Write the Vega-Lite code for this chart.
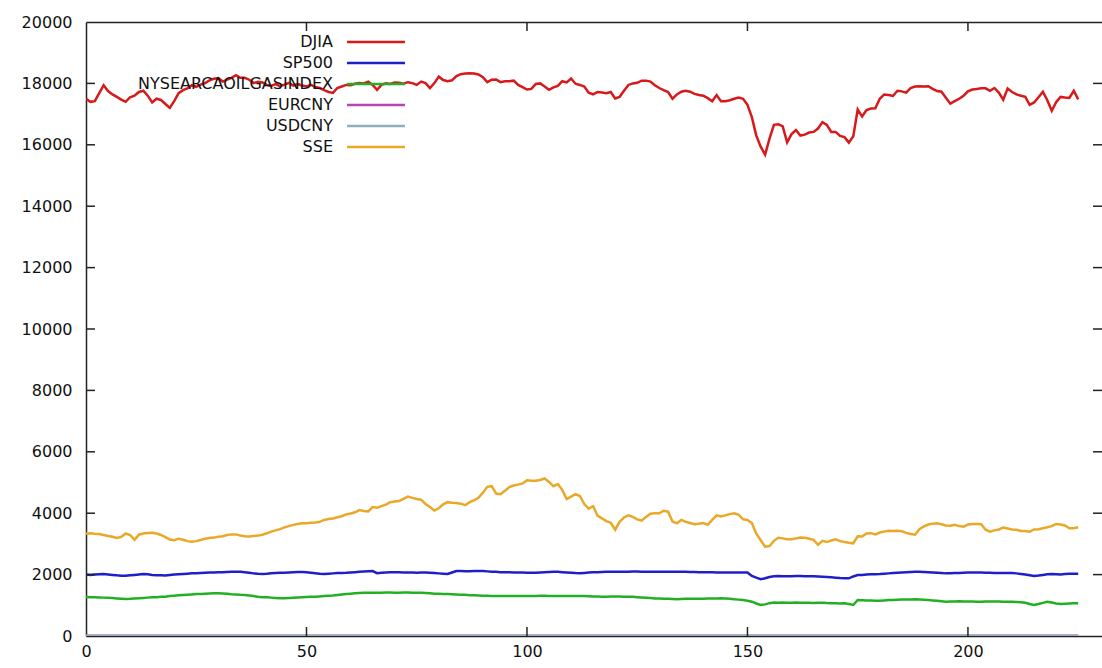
{
  "$schema": "https://vega.github.io/schema/vega-lite/v6.json",
  "width": 1016,
  "height": 614,
  "autosize": {"type": "none"},
  "padding": {"left": 86, "top": 22, "right": 0, "bottom": 32},
  "background": "white",
  "data": {"values": [
{"i":0,"DJIA":17500,"SP500":2000,"NYSEARCAOILGASINDEX":1270,"EURCNY":7.50,"USDCNY":6.21,"SSE":3340},
{"i":1,"DJIA":17400,"SP500":1990,"NYSEARCAOILGASINDEX":1265,"EURCNY":7.48,"USDCNY":6.21,"SSE":3345},
{"i":2,"DJIA":17420,"SP500":2000,"NYSEARCAOILGASINDEX":1260,"EURCNY":7.45,"USDCNY":6.22,"SSE":3330},
{"i":3,"DJIA":17680,"SP500":2010,"NYSEARCAOILGASINDEX":1255,"EURCNY":7.43,"USDCNY":6.22,"SSE":3320},
{"i":4,"DJIA":17940,"SP500":2020,"NYSEARCAOILGASINDEX":1250,"EURCNY":7.40,"USDCNY":6.22,"SSE":3290},
{"i":5,"DJIA":17750,"SP500":2005,"NYSEARCAOILGASINDEX":1245,"EURCNY":7.38,"USDCNY":6.21,"SSE":3260},
{"i":6,"DJIA":17640,"SP500":1990,"NYSEARCAOILGASINDEX":1235,"EURCNY":7.33,"USDCNY":6.21,"SSE":3230},
{"i":7,"DJIA":17560,"SP500":1975,"NYSEARCAOILGASINDEX":1225,"EURCNY":7.30,"USDCNY":6.21,"SSE":3190},
{"i":8,"DJIA":17470,"SP500":1965,"NYSEARCAOILGASINDEX":1215,"EURCNY":7.25,"USDCNY":6.20,"SSE":3230},
{"i":9,"DJIA":17400,"SP500":1960,"NYSEARCAOILGASINDEX":1205,"EURCNY":7.20,"USDCNY":6.20,"SSE":3340},
{"i":10,"DJIA":17550,"SP500":1975,"NYSEARCAOILGASINDEX":1210,"EURCNY":7.18,"USDCNY":6.20,"SSE":3290},
{"i":11,"DJIA":17600,"SP500":1990,"NYSEARCAOILGASINDEX":1220,"EURCNY":7.10,"USDCNY":6.21,"SSE":3130},
{"i":12,"DJIA":17720,"SP500":2005,"NYSEARCAOILGASINDEX":1230,"EURCNY":7.05,"USDCNY":6.22,"SSE":3300},
{"i":13,"DJIA":17760,"SP500":2020,"NYSEARCAOILGASINDEX":1240,"EURCNY":7.02,"USDCNY":6.23,"SSE":3340},
{"i":14,"DJIA":17600,"SP500":2010,"NYSEARCAOILGASINDEX":1250,"EURCNY":7.00,"USDCNY":6.24,"SSE":3355},
{"i":15,"DJIA":17380,"SP500":1990,"NYSEARCAOILGASINDEX":1260,"EURCNY":7.05,"USDCNY":6.24,"SSE":3365},
{"i":16,"DJIA":17500,"SP500":1980,"NYSEARCAOILGASINDEX":1265,"EURCNY":7.08,"USDCNY":6.25,"SSE":3340},
{"i":17,"DJIA":17460,"SP500":1975,"NYSEARCAOILGASINDEX":1275,"EURCNY":7.10,"USDCNY":6.25,"SSE":3290},
{"i":18,"DJIA":17330,"SP500":1970,"NYSEARCAOILGASINDEX":1280,"EURCNY":7.12,"USDCNY":6.25,"SSE":3220},
{"i":19,"DJIA":17200,"SP500":1985,"NYSEARCAOILGASINDEX":1300,"EURCNY":7.08,"USDCNY":6.25,"SSE":3140},
{"i":20,"DJIA":17420,"SP500":2000,"NYSEARCAOILGASINDEX":1315,"EURCNY":7.05,"USDCNY":6.25,"SSE":3120},
{"i":21,"DJIA":17680,"SP500":2010,"NYSEARCAOILGASINDEX":1325,"EURCNY":7.02,"USDCNY":6.26,"SSE":3170},
{"i":22,"DJIA":17780,"SP500":2020,"NYSEARCAOILGASINDEX":1335,"EURCNY":7.00,"USDCNY":6.26,"SSE":3135},
{"i":23,"DJIA":17840,"SP500":2030,"NYSEARCAOILGASINDEX":1345,"EURCNY":7.03,"USDCNY":6.26,"SSE":3090},
{"i":24,"DJIA":17940,"SP500":2040,"NYSEARCAOILGASINDEX":1355,"EURCNY":7.06,"USDCNY":6.25,"SSE":3070},
{"i":25,"DJIA":17890,"SP500":2045,"NYSEARCAOILGASINDEX":1365,"EURCNY":7.08,"USDCNY":6.25,"SSE":3090},
{"i":26,"DJIA":17960,"SP500":2055,"NYSEARCAOILGASINDEX":1370,"EURCNY":7.05,"USDCNY":6.26,"SSE":3125},
{"i":27,"DJIA":18010,"SP500":2060,"NYSEARCAOILGASINDEX":1380,"EURCNY":7.00,"USDCNY":6.26,"SSE":3170},
{"i":28,"DJIA":18100,"SP500":2065,"NYSEARCAOILGASINDEX":1385,"EURCNY":6.95,"USDCNY":6.26,"SSE":3190},
{"i":29,"DJIA":18150,"SP500":2070,"NYSEARCAOILGASINDEX":1390,"EURCNY":6.90,"USDCNY":6.27,"SSE":3205},
{"i":30,"DJIA":18170,"SP500":2075,"NYSEARCAOILGASINDEX":1390,"EURCNY":6.85,"USDCNY":6.26,"SSE":3230},
{"i":31,"DJIA":18060,"SP500":2080,"NYSEARCAOILGASINDEX":1385,"EURCNY":6.80,"USDCNY":6.26,"SSE":3250},
{"i":32,"DJIA":18120,"SP500":2085,"NYSEARCAOILGASINDEX":1375,"EURCNY":6.75,"USDCNY":6.25,"SSE":3290},
{"i":33,"DJIA":18180,"SP500":2090,"NYSEARCAOILGASINDEX":1360,"EURCNY":6.72,"USDCNY":6.24,"SSE":3310},
{"i":34,"DJIA":18270,"SP500":2095,"NYSEARCAOILGASINDEX":1350,"EURCNY":6.70,"USDCNY":6.23,"SSE":3310},
{"i":35,"DJIA":18180,"SP500":2095,"NYSEARCAOILGASINDEX":1340,"EURCNY":6.68,"USDCNY":6.22,"SSE":3270},
{"i":36,"DJIA":18180,"SP500":2080,"NYSEARCAOILGASINDEX":1335,"EURCNY":6.66,"USDCNY":6.21,"SSE":3250},
{"i":37,"DJIA":18120,"SP500":2060,"NYSEARCAOILGASINDEX":1320,"EURCNY":6.60,"USDCNY":6.20,"SSE":3240},
{"i":38,"DJIA":18010,"SP500":2040,"NYSEARCAOILGASINDEX":1300,"EURCNY":6.58,"USDCNY":6.20,"SSE":3260},
{"i":39,"DJIA":18050,"SP500":2025,"NYSEARCAOILGASINDEX":1280,"EURCNY":6.62,"USDCNY":6.20,"SSE":3270},
{"i":40,"DJIA":18030,"SP500":2020,"NYSEARCAOILGASINDEX":1265,"EURCNY":6.68,"USDCNY":6.20,"SSE":3300},
{"i":41,"DJIA":17950,"SP500":2030,"NYSEARCAOILGASINDEX":1260,"EURCNY":6.70,"USDCNY":6.20,"SSE":3345},
{"i":42,"DJIA":17920,"SP500":2045,"NYSEARCAOILGASINDEX":1250,"EURCNY":6.72,"USDCNY":6.20,"SSE":3400},
{"i":43,"DJIA":17980,"SP500":2055,"NYSEARCAOILGASINDEX":1240,"EURCNY":6.66,"USDCNY":6.20,"SSE":3440},
{"i":44,"DJIA":17910,"SP500":2060,"NYSEARCAOILGASINDEX":1230,"EURCNY":6.62,"USDCNY":6.20,"SSE":3480},
{"i":45,"DJIA":17960,"SP500":2060,"NYSEARCAOILGASINDEX":1227,"EURCNY":6.65,"USDCNY":6.21,"SSE":3540},
{"i":46,"DJIA":18020,"SP500":2070,"NYSEARCAOILGASINDEX":1235,"EURCNY":6.70,"USDCNY":6.20,"SSE":3580},
{"i":47,"DJIA":17930,"SP500":2080,"NYSEARCAOILGASINDEX":1245,"EURCNY":6.75,"USDCNY":6.20,"SSE":3620},
{"i":48,"DJIA":17980,"SP500":2085,"NYSEARCAOILGASINDEX":1255,"EURCNY":6.80,"USDCNY":6.20,"SSE":3650},
{"i":49,"DJIA":17930,"SP500":2085,"NYSEARCAOILGASINDEX":1265,"EURCNY":6.85,"USDCNY":6.20,"SSE":3670},
{"i":50,"DJIA":17900,"SP500":2075,"NYSEARCAOILGASINDEX":1270,"EURCNY":6.90,"USDCNY":6.20,"SSE":3670},
{"i":51,"DJIA":17950,"SP500":2060,"NYSEARCAOILGASINDEX":1275,"EURCNY":6.92,"USDCNY":6.21,"SSE":3690},
{"i":52,"DJIA":17880,"SP500":2045,"NYSEARCAOILGASINDEX":1280,"EURCNY":6.95,"USDCNY":6.21,"SSE":3700},
{"i":53,"DJIA":17850,"SP500":2030,"NYSEARCAOILGASINDEX":1290,"EURCNY":6.93,"USDCNY":6.20,"SSE":3720},
{"i":54,"DJIA":17780,"SP500":2020,"NYSEARCAOILGASINDEX":1300,"EURCNY":6.90,"USDCNY":6.20,"SSE":3780},
{"i":55,"DJIA":17720,"SP500":2030,"NYSEARCAOILGASINDEX":1310,"EURCNY":6.88,"USDCNY":6.20,"SSE":3810},
{"i":56,"DJIA":17690,"SP500":2040,"NYSEARCAOILGASINDEX":1320,"EURCNY":6.92,"USDCNY":6.20,"SSE":3830},
{"i":57,"DJIA":17850,"SP500":2050,"NYSEARCAOILGASINDEX":1335,"EURCNY":6.96,"USDCNY":6.21,"SSE":3870},
{"i":58,"DJIA":17900,"SP500":2055,"NYSEARCAOILGASINDEX":1350,"EURCNY":6.98,"USDCNY":6.21,"SSE":3900},
{"i":59,"DJIA":17950,"SP500":2060,"NYSEARCAOILGASINDEX":1365,"EURCNY":6.95,"USDCNY":6.21,"SSE":3960},
{"i":60,"DJIA":17940,"SP500":2070,"NYSEARCAOILGASINDEX":1380,"EURCNY":6.92,"USDCNY":6.20,"SSE":3990},
{"i":61,"DJIA":17990,"SP500":2080,"NYSEARCAOILGASINDEX":1390,"EURCNY":6.90,"USDCNY":6.20,"SSE":4030},
{"i":62,"DJIA":18010,"SP500":2090,"NYSEARCAOILGASINDEX":1400,"EURCNY":6.94,"USDCNY":6.20,"SSE":4100},
{"i":63,"DJIA":18000,"SP500":2100,"NYSEARCAOILGASINDEX":1405,"EURCNY":6.98,"USDCNY":6.20,"SSE":4070},
{"i":64,"DJIA":18060,"SP500":2110,"NYSEARCAOILGASINDEX":1410,"EURCNY":7.00,"USDCNY":6.21,"SSE":4060},
{"i":65,"DJIA":17950,"SP500":2115,"NYSEARCAOILGASINDEX":1410,"EURCNY":6.96,"USDCNY":6.21,"SSE":4200},
{"i":66,"DJIA":17790,"SP500":2045,"NYSEARCAOILGASINDEX":1405,"EURCNY":6.92,"USDCNY":6.21,"SSE":4180},
{"i":67,"DJIA":17950,"SP500":2060,"NYSEARCAOILGASINDEX":1410,"EURCNY":6.90,"USDCNY":6.21,"SSE":4230},
{"i":68,"DJIA":18000,"SP500":2070,"NYSEARCAOILGASINDEX":1415,"EURCNY":6.88,"USDCNY":6.20,"SSE":4280},
{"i":69,"DJIA":17980,"SP500":2075,"NYSEARCAOILGASINDEX":1415,"EURCNY":6.86,"USDCNY":6.20,"SSE":4360},
{"i":70,"DJIA":18030,"SP500":2075,"NYSEARCAOILGASINDEX":1410,"EURCNY":6.84,"USDCNY":6.20,"SSE":4380},
{"i":71,"DJIA":18020,"SP500":2075,"NYSEARCAOILGASINDEX":1410,"EURCNY":6.86,"USDCNY":6.20,"SSE":4400},
{"i":72,"DJIA":17990,"SP500":2070,"NYSEARCAOILGASINDEX":1415,"EURCNY":6.90,"USDCNY":6.20,"SSE":4470},
{"i":73,"DJIA":18040,"SP500":2070,"NYSEARCAOILGASINDEX":1415,"EURCNY":6.94,"USDCNY":6.20,"SSE":4540},
{"i":74,"DJIA":18010,"SP500":2065,"NYSEARCAOILGASINDEX":1410,"EURCNY":6.98,"USDCNY":6.20,"SSE":4500},
{"i":75,"DJIA":17950,"SP500":2060,"NYSEARCAOILGASINDEX":1410,"EURCNY":7.00,"USDCNY":6.20,"SSE":4460},
{"i":76,"DJIA":18060,"SP500":2065,"NYSEARCAOILGASINDEX":1405,"EURCNY":6.98,"USDCNY":6.21,"SSE":4440},
{"i":77,"DJIA":18010,"SP500":2065,"NYSEARCAOILGASINDEX":1400,"EURCNY":6.95,"USDCNY":6.21,"SSE":4300},
{"i":78,"DJIA":17850,"SP500":2060,"NYSEARCAOILGASINDEX":1390,"EURCNY":6.92,"USDCNY":6.21,"SSE":4200},
{"i":79,"DJIA":18010,"SP500":2050,"NYSEARCAOILGASINDEX":1380,"EURCNY":6.90,"USDCNY":6.21,"SSE":4090},
{"i":80,"DJIA":18220,"SP500":2040,"NYSEARCAOILGASINDEX":1375,"EURCNY":6.88,"USDCNY":6.21,"SSE":4160},
{"i":81,"DJIA":18110,"SP500":2030,"NYSEARCAOILGASINDEX":1370,"EURCNY":6.86,"USDCNY":6.21,"SSE":4290},
{"i":82,"DJIA":18070,"SP500":2020,"NYSEARCAOILGASINDEX":1365,"EURCNY":6.85,"USDCNY":6.21,"SSE":4360},
{"i":83,"DJIA":18100,"SP500":2070,"NYSEARCAOILGASINDEX":1357,"EURCNY":6.84,"USDCNY":6.20,"SSE":4340},
{"i":84,"DJIA":18240,"SP500":2115,"NYSEARCAOILGASINDEX":1350,"EURCNY":6.82,"USDCNY":6.20,"SSE":4330},
{"i":85,"DJIA":18300,"SP500":2115,"NYSEARCAOILGASINDEX":1345,"EURCNY":6.80,"USDCNY":6.20,"SSE":4310},
{"i":86,"DJIA":18320,"SP500":2110,"NYSEARCAOILGASINDEX":1340,"EURCNY":6.82,"USDCNY":6.20,"SSE":4260},
{"i":87,"DJIA":18330,"SP500":2110,"NYSEARCAOILGASINDEX":1330,"EURCNY":6.84,"USDCNY":6.20,"SSE":4360},
{"i":88,"DJIA":18320,"SP500":2115,"NYSEARCAOILGASINDEX":1325,"EURCNY":6.86,"USDCNY":6.20,"SSE":4420},
{"i":89,"DJIA":18290,"SP500":2115,"NYSEARCAOILGASINDEX":1320,"EURCNY":6.88,"USDCNY":6.20,"SSE":4500},
{"i":90,"DJIA":18200,"SP500":2115,"NYSEARCAOILGASINDEX":1313,"EURCNY":6.90,"USDCNY":6.20,"SSE":4670},
{"i":91,"DJIA":18040,"SP500":2105,"NYSEARCAOILGASINDEX":1310,"EURCNY":6.92,"USDCNY":6.20,"SSE":4860},
{"i":92,"DJIA":18120,"SP500":2095,"NYSEARCAOILGASINDEX":1305,"EURCNY":6.94,"USDCNY":6.20,"SSE":4880},
{"i":93,"DJIA":18130,"SP500":2090,"NYSEARCAOILGASINDEX":1300,"EURCNY":6.96,"USDCNY":6.20,"SSE":4640},
{"i":94,"DJIA":18040,"SP500":2080,"NYSEARCAOILGASINDEX":1300,"EURCNY":6.98,"USDCNY":6.21,"SSE":4620},
{"i":95,"DJIA":18070,"SP500":2075,"NYSEARCAOILGASINDEX":1305,"EURCNY":7.00,"USDCNY":6.21,"SSE":4730},
{"i":96,"DJIA":18070,"SP500":2075,"NYSEARCAOILGASINDEX":1305,"EURCNY":6.98,"USDCNY":6.21,"SSE":4850},
{"i":97,"DJIA":18090,"SP500":2070,"NYSEARCAOILGASINDEX":1305,"EURCNY":6.94,"USDCNY":6.21,"SSE":4900},
{"i":98,"DJIA":17950,"SP500":2065,"NYSEARCAOILGASINDEX":1305,"EURCNY":6.90,"USDCNY":6.21,"SSE":4930},
{"i":99,"DJIA":17880,"SP500":2065,"NYSEARCAOILGASINDEX":1305,"EURCNY":6.86,"USDCNY":6.21,"SSE":4970},
{"i":100,"DJIA":17800,"SP500":2060,"NYSEARCAOILGASINDEX":1300,"EURCNY":6.84,"USDCNY":6.21,"SSE":5070},
{"i":101,"DJIA":17820,"SP500":2060,"NYSEARCAOILGASINDEX":1300,"EURCNY":6.82,"USDCNY":6.21,"SSE":5060},
{"i":102,"DJIA":17980,"SP500":2060,"NYSEARCAOILGASINDEX":1305,"EURCNY":6.80,"USDCNY":6.20,"SSE":5060},
{"i":103,"DJIA":18000,"SP500":2070,"NYSEARCAOILGASINDEX":1310,"EURCNY":6.78,"USDCNY":6.20,"SSE":5080},
{"i":104,"DJIA":17900,"SP500":2080,"NYSEARCAOILGASINDEX":1310,"EURCNY":6.80,"USDCNY":6.20,"SSE":5130},
{"i":105,"DJIA":17790,"SP500":2085,"NYSEARCAOILGASINDEX":1305,"EURCNY":6.82,"USDCNY":6.20,"SSE":5020},
{"i":106,"DJIA":17870,"SP500":2090,"NYSEARCAOILGASINDEX":1305,"EURCNY":6.84,"USDCNY":6.21,"SSE":4880},
{"i":107,"DJIA":17920,"SP500":2090,"NYSEARCAOILGASINDEX":1300,"EURCNY":6.86,"USDCNY":6.21,"SSE":4950},
{"i":108,"DJIA":18070,"SP500":2080,"NYSEARCAOILGASINDEX":1300,"EURCNY":6.84,"USDCNY":6.21,"SSE":4760},
{"i":109,"DJIA":18030,"SP500":2070,"NYSEARCAOILGASINDEX":1300,"EURCNY":6.82,"USDCNY":6.21,"SSE":4460},
{"i":110,"DJIA":18160,"SP500":2060,"NYSEARCAOILGASINDEX":1305,"EURCNY":6.80,"USDCNY":6.21,"SSE":4540},
{"i":111,"DJIA":17990,"SP500":2050,"NYSEARCAOILGASINDEX":1305,"EURCNY":6.78,"USDCNY":6.21,"SSE":4620},
{"i":112,"DJIA":17950,"SP500":2045,"NYSEARCAOILGASINDEX":1300,"EURCNY":6.80,"USDCNY":6.21,"SSE":4560},
{"i":113,"DJIA":17900,"SP500":2055,"NYSEARCAOILGASINDEX":1303,"EURCNY":6.82,"USDCNY":6.21,"SSE":4300},
{"i":114,"DJIA":17700,"SP500":2065,"NYSEARCAOILGASINDEX":1295,"EURCNY":6.84,"USDCNY":6.21,"SSE":4150},
{"i":115,"DJIA":17640,"SP500":2075,"NYSEARCAOILGASINDEX":1290,"EURCNY":6.86,"USDCNY":6.21,"SSE":4230},
{"i":116,"DJIA":17720,"SP500":2080,"NYSEARCAOILGASINDEX":1285,"EURCNY":6.84,"USDCNY":6.21,"SSE":3920},
{"i":117,"DJIA":17700,"SP500":2085,"NYSEARCAOILGASINDEX":1280,"EURCNY":6.82,"USDCNY":6.21,"SSE":3830},
{"i":118,"DJIA":17680,"SP500":2090,"NYSEARCAOILGASINDEX":1280,"EURCNY":6.80,"USDCNY":6.21,"SSE":3740},
{"i":119,"DJIA":17720,"SP500":2090,"NYSEARCAOILGASINDEX":1285,"EURCNY":6.80,"USDCNY":6.21,"SSE":3690},
{"i":120,"DJIA":17510,"SP500":2090,"NYSEARCAOILGASINDEX":1290,"EURCNY":6.82,"USDCNY":6.21,"SSE":3460},
{"i":121,"DJIA":17560,"SP500":2095,"NYSEARCAOILGASINDEX":1285,"EURCNY":6.84,"USDCNY":6.21,"SSE":3720},
{"i":122,"DJIA":17760,"SP500":2095,"NYSEARCAOILGASINDEX":1280,"EURCNY":6.86,"USDCNY":6.21,"SSE":3860},
{"i":123,"DJIA":17950,"SP500":2095,"NYSEARCAOILGASINDEX":1280,"EURCNY":6.88,"USDCNY":6.21,"SSE":3930},
{"i":124,"DJIA":18000,"SP500":2100,"NYSEARCAOILGASINDEX":1275,"EURCNY":6.90,"USDCNY":6.21,"SSE":3880},
{"i":125,"DJIA":18020,"SP500":2100,"NYSEARCAOILGASINDEX":1265,"EURCNY":6.92,"USDCNY":6.21,"SSE":3800},
{"i":126,"DJIA":18090,"SP500":2095,"NYSEARCAOILGASINDEX":1255,"EURCNY":6.90,"USDCNY":6.21,"SSE":3760},
{"i":127,"DJIA":18090,"SP500":2095,"NYSEARCAOILGASINDEX":1245,"EURCNY":6.88,"USDCNY":6.21,"SSE":3880},
{"i":128,"DJIA":18060,"SP500":2090,"NYSEARCAOILGASINDEX":1235,"EURCNY":6.86,"USDCNY":6.21,"SSE":3980},
{"i":129,"DJIA":17940,"SP500":2090,"NYSEARCAOILGASINDEX":1225,"EURCNY":6.84,"USDCNY":6.21,"SSE":3995},
{"i":130,"DJIA":17850,"SP500":2095,"NYSEARCAOILGASINDEX":1220,"EURCNY":6.82,"USDCNY":6.21,"SSE":3995},
{"i":131,"DJIA":17780,"SP500":2095,"NYSEARCAOILGASINDEX":1215,"EURCNY":6.80,"USDCNY":6.21,"SSE":4080},
{"i":132,"DJIA":17720,"SP500":2095,"NYSEARCAOILGASINDEX":1210,"EURCNY":6.78,"USDCNY":6.21,"SSE":4050},
{"i":133,"DJIA":17500,"SP500":2095,"NYSEARCAOILGASINDEX":1205,"EURCNY":6.80,"USDCNY":6.21,"SSE":3730},
{"i":134,"DJIA":17640,"SP500":2095,"NYSEARCAOILGASINDEX":1200,"EURCNY":6.82,"USDCNY":6.21,"SSE":3670},
{"i":135,"DJIA":17730,"SP500":2095,"NYSEARCAOILGASINDEX":1205,"EURCNY":6.84,"USDCNY":6.21,"SSE":3780},
{"i":136,"DJIA":17760,"SP500":2090,"NYSEARCAOILGASINDEX":1210,"EURCNY":6.86,"USDCNY":6.21,"SSE":3720},
{"i":137,"DJIA":17730,"SP500":2085,"NYSEARCAOILGASINDEX":1215,"EURCNY":6.88,"USDCNY":6.21,"SSE":3680},
{"i":138,"DJIA":17660,"SP500":2085,"NYSEARCAOILGASINDEX":1215,"EURCNY":6.90,"USDCNY":6.21,"SSE":3640},
{"i":139,"DJIA":17620,"SP500":2080,"NYSEARCAOILGASINDEX":1210,"EURCNY":6.92,"USDCNY":6.21,"SSE":3660},
{"i":140,"DJIA":17600,"SP500":2080,"NYSEARCAOILGASINDEX":1215,"EURCNY":6.94,"USDCNY":6.21,"SSE":3680},
{"i":141,"DJIA":17520,"SP500":2075,"NYSEARCAOILGASINDEX":1220,"EURCNY":6.96,"USDCNY":6.21,"SSE":3620},
{"i":142,"DJIA":17420,"SP500":2075,"NYSEARCAOILGASINDEX":1225,"EURCNY":6.98,"USDCNY":6.21,"SSE":3780},
{"i":143,"DJIA":17620,"SP500":2070,"NYSEARCAOILGASINDEX":1225,"EURCNY":7.00,"USDCNY":6.21,"SSE":3930},
{"i":144,"DJIA":17420,"SP500":2070,"NYSEARCAOILGASINDEX":1227,"EURCNY":7.02,"USDCNY":6.21,"SSE":3890},
{"i":145,"DJIA":17420,"SP500":2070,"NYSEARCAOILGASINDEX":1220,"EURCNY":7.04,"USDCNY":6.21,"SSE":3930},
{"i":146,"DJIA":17450,"SP500":2065,"NYSEARCAOILGASINDEX":1210,"EURCNY":7.06,"USDCNY":6.21,"SSE":3970},
{"i":147,"DJIA":17500,"SP500":2065,"NYSEARCAOILGASINDEX":1195,"EURCNY":7.08,"USDCNY":6.21,"SSE":4000},
{"i":148,"DJIA":17540,"SP500":2065,"NYSEARCAOILGASINDEX":1185,"EURCNY":7.10,"USDCNY":6.21,"SSE":3950},
{"i":149,"DJIA":17500,"SP500":2065,"NYSEARCAOILGASINDEX":1170,"EURCNY":7.12,"USDCNY":6.21,"SSE":3800},
{"i":150,"DJIA":17300,"SP500":2065,"NYSEARCAOILGASINDEX":1150,"EURCNY":7.20,"USDCNY":6.21,"SSE":3780},
{"i":151,"DJIA":16900,"SP500":1955,"NYSEARCAOILGASINDEX":1117,"EURCNY":7.30,"USDCNY":6.32,"SSE":3680},
{"i":152,"DJIA":16300,"SP500":1900,"NYSEARCAOILGASINDEX":1060,"EURCNY":7.35,"USDCNY":6.40,"SSE":3330},
{"i":153,"DJIA":15940,"SP500":1850,"NYSEARCAOILGASINDEX":1010,"EURCNY":7.38,"USDCNY":6.39,"SSE":3120},
{"i":154,"DJIA":15680,"SP500":1880,"NYSEARCAOILGASINDEX":1030,"EURCNY":7.25,"USDCNY":6.39,"SSE":2910},
{"i":155,"DJIA":16200,"SP500":1920,"NYSEARCAOILGASINDEX":1070,"EURCNY":7.20,"USDCNY":6.40,"SSE":2930},
{"i":156,"DJIA":16650,"SP500":1945,"NYSEARCAOILGASINDEX":1090,"EURCNY":7.15,"USDCNY":6.39,"SSE":3100},
{"i":157,"DJIA":16670,"SP500":1955,"NYSEARCAOILGASINDEX":1085,"EURCNY":7.12,"USDCNY":6.38,"SSE":3200},
{"i":158,"DJIA":16600,"SP500":1950,"NYSEARCAOILGASINDEX":1090,"EURCNY":7.10,"USDCNY":6.37,"SSE":3180},
{"i":159,"DJIA":16080,"SP500":1945,"NYSEARCAOILGASINDEX":1080,"EURCNY":7.14,"USDCNY":6.36,"SSE":3150},
{"i":160,"DJIA":16350,"SP500":1950,"NYSEARCAOILGASINDEX":1085,"EURCNY":7.16,"USDCNY":6.36,"SSE":3150},
{"i":161,"DJIA":16480,"SP500":1955,"NYSEARCAOILGASINDEX":1090,"EURCNY":7.18,"USDCNY":6.37,"SSE":3180},
{"i":162,"DJIA":16300,"SP500":1955,"NYSEARCAOILGASINDEX":1085,"EURCNY":7.20,"USDCNY":6.38,"SSE":3210},
{"i":163,"DJIA":16330,"SP500":1950,"NYSEARCAOILGASINDEX":1080,"EURCNY":7.18,"USDCNY":6.39,"SSE":3200},
{"i":164,"DJIA":16400,"SP500":1950,"NYSEARCAOILGASINDEX":1080,"EURCNY":7.16,"USDCNY":6.39,"SSE":3170},
{"i":165,"DJIA":16420,"SP500":1950,"NYSEARCAOILGASINDEX":1075,"EURCNY":7.14,"USDCNY":6.40,"SSE":3130},
{"i":166,"DJIA":16530,"SP500":1940,"NYSEARCAOILGASINDEX":1080,"EURCNY":7.12,"USDCNY":6.39,"SSE":2970},
{"i":167,"DJIA":16740,"SP500":1930,"NYSEARCAOILGASINDEX":1085,"EURCNY":7.14,"USDCNY":6.38,"SSE":3100},
{"i":168,"DJIA":16650,"SP500":1920,"NYSEARCAOILGASINDEX":1075,"EURCNY":7.16,"USDCNY":6.37,"SSE":3060},
{"i":169,"DJIA":16420,"SP500":1910,"NYSEARCAOILGASINDEX":1070,"EURCNY":7.18,"USDCNY":6.37,"SSE":3110},
{"i":170,"DJIA":16420,"SP500":1900,"NYSEARCAOILGASINDEX":1065,"EURCNY":7.20,"USDCNY":6.37,"SSE":3150},
{"i":171,"DJIA":16290,"SP500":1890,"NYSEARCAOILGASINDEX":1060,"EURCNY":7.22,"USDCNY":6.36,"SSE":3090},
{"i":172,"DJIA":16250,"SP500":1885,"NYSEARCAOILGASINDEX":1063,"EURCNY":7.20,"USDCNY":6.36,"SSE":3060},
{"i":173,"DJIA":16070,"SP500":1880,"NYSEARCAOILGASINDEX":1040,"EURCNY":7.18,"USDCNY":6.36,"SSE":3040},
{"i":174,"DJIA":16280,"SP500":1940,"NYSEARCAOILGASINDEX":1010,"EURCNY":7.16,"USDCNY":6.36,"SSE":3020},
{"i":175,"DJIA":17150,"SP500":1985,"NYSEARCAOILGASINDEX":1172,"EURCNY":7.14,"USDCNY":6.36,"SSE":3250},
{"i":176,"DJIA":16920,"SP500":1990,"NYSEARCAOILGASINDEX":1165,"EURCNY":7.12,"USDCNY":6.36,"SSE":3240},
{"i":177,"DJIA":17130,"SP500":2000,"NYSEARCAOILGASINDEX":1160,"EURCNY":7.10,"USDCNY":6.35,"SSE":3340},
{"i":178,"DJIA":17180,"SP500":2010,"NYSEARCAOILGASINDEX":1155,"EURCNY":7.08,"USDCNY":6.35,"SSE":3350},
{"i":179,"DJIA":17190,"SP500":2015,"NYSEARCAOILGASINDEX":1150,"EURCNY":7.06,"USDCNY":6.35,"SSE":3310},
{"i":180,"DJIA":17500,"SP500":2020,"NYSEARCAOILGASINDEX":1150,"EURCNY":7.04,"USDCNY":6.35,"SSE":3370},
{"i":181,"DJIA":17640,"SP500":2030,"NYSEARCAOILGASINDEX":1160,"EURCNY":7.02,"USDCNY":6.35,"SSE":3400},
{"i":182,"DJIA":17620,"SP500":2040,"NYSEARCAOILGASINDEX":1170,"EURCNY":7.00,"USDCNY":6.36,"SSE":3430},
{"i":183,"DJIA":17590,"SP500":2050,"NYSEARCAOILGASINDEX":1175,"EURCNY":6.98,"USDCNY":6.36,"SSE":3420},
{"i":184,"DJIA":17760,"SP500":2060,"NYSEARCAOILGASINDEX":1180,"EURCNY":6.96,"USDCNY":6.36,"SSE":3430},
{"i":185,"DJIA":17740,"SP500":2070,"NYSEARCAOILGASINDEX":1185,"EURCNY":6.94,"USDCNY":6.37,"SSE":3410},
{"i":186,"DJIA":17700,"SP500":2080,"NYSEARCAOILGASINDEX":1190,"EURCNY":6.92,"USDCNY":6.37,"SSE":3360},
{"i":187,"DJIA":17850,"SP500":2085,"NYSEARCAOILGASINDEX":1190,"EURCNY":6.90,"USDCNY":6.36,"SSE":3320},
{"i":188,"DJIA":17900,"SP500":2090,"NYSEARCAOILGASINDEX":1194,"EURCNY":6.92,"USDCNY":6.35,"SSE":3300},
{"i":189,"DJIA":17910,"SP500":2090,"NYSEARCAOILGASINDEX":1190,"EURCNY":6.94,"USDCNY":6.35,"SSE":3480},
{"i":190,"DJIA":17900,"SP500":2085,"NYSEARCAOILGASINDEX":1180,"EURCNY":6.96,"USDCNY":6.34,"SSE":3570},
{"i":191,"DJIA":17910,"SP500":2080,"NYSEARCAOILGASINDEX":1170,"EURCNY":6.98,"USDCNY":6.34,"SSE":3630},
{"i":192,"DJIA":17820,"SP500":2070,"NYSEARCAOILGASINDEX":1160,"EURCNY":7.00,"USDCNY":6.35,"SSE":3660},
{"i":193,"DJIA":17750,"SP500":2060,"NYSEARCAOILGASINDEX":1150,"EURCNY":6.98,"USDCNY":6.35,"SSE":3670},
{"i":194,"DJIA":17730,"SP500":2050,"NYSEARCAOILGASINDEX":1135,"EURCNY":6.96,"USDCNY":6.36,"SSE":3640},
{"i":195,"DJIA":17530,"SP500":2040,"NYSEARCAOILGASINDEX":1117,"EURCNY":6.94,"USDCNY":6.36,"SSE":3600},
{"i":196,"DJIA":17340,"SP500":2045,"NYSEARCAOILGASINDEX":1120,"EURCNY":6.92,"USDCNY":6.37,"SSE":3590},
{"i":197,"DJIA":17420,"SP500":2050,"NYSEARCAOILGASINDEX":1125,"EURCNY":6.90,"USDCNY":6.37,"SSE":3620},
{"i":198,"DJIA":17500,"SP500":2055,"NYSEARCAOILGASINDEX":1130,"EURCNY":6.88,"USDCNY":6.37,"SSE":3580},
{"i":199,"DJIA":17600,"SP500":2060,"NYSEARCAOILGASINDEX":1125,"EURCNY":6.86,"USDCNY":6.38,"SSE":3560},
{"i":200,"DJIA":17740,"SP500":2065,"NYSEARCAOILGASINDEX":1120,"EURCNY":6.84,"USDCNY":6.38,"SSE":3630},
{"i":201,"DJIA":17800,"SP500":2065,"NYSEARCAOILGASINDEX":1120,"EURCNY":6.82,"USDCNY":6.38,"SSE":3650},
{"i":202,"DJIA":17820,"SP500":2065,"NYSEARCAOILGASINDEX":1117,"EURCNY":6.80,"USDCNY":6.38,"SSE":3650},
{"i":203,"DJIA":17840,"SP500":2065,"NYSEARCAOILGASINDEX":1117,"EURCNY":6.82,"USDCNY":6.39,"SSE":3640},
{"i":204,"DJIA":17840,"SP500":2060,"NYSEARCAOILGASINDEX":1120,"EURCNY":6.84,"USDCNY":6.39,"SSE":3460},
{"i":205,"DJIA":17760,"SP500":2060,"NYSEARCAOILGASINDEX":1125,"EURCNY":6.86,"USDCNY":6.39,"SSE":3400},
{"i":206,"DJIA":17850,"SP500":2055,"NYSEARCAOILGASINDEX":1125,"EURCNY":6.88,"USDCNY":6.39,"SSE":3440},
{"i":207,"DJIA":17700,"SP500":2050,"NYSEARCAOILGASINDEX":1120,"EURCNY":6.90,"USDCNY":6.40,"SSE":3470},
{"i":208,"DJIA":17470,"SP500":2050,"NYSEARCAOILGASINDEX":1115,"EURCNY":6.88,"USDCNY":6.40,"SSE":3530},
{"i":209,"DJIA":17830,"SP500":2050,"NYSEARCAOILGASINDEX":1117,"EURCNY":6.86,"USDCNY":6.40,"SSE":3500},
{"i":210,"DJIA":17720,"SP500":2050,"NYSEARCAOILGASINDEX":1117,"EURCNY":6.84,"USDCNY":6.40,"SSE":3470},
{"i":211,"DJIA":17640,"SP500":2040,"NYSEARCAOILGASINDEX":1110,"EURCNY":6.82,"USDCNY":6.41,"SSE":3460},
{"i":212,"DJIA":17600,"SP500":2020,"NYSEARCAOILGASINDEX":1100,"EURCNY":6.80,"USDCNY":6.41,"SSE":3420},
{"i":213,"DJIA":17560,"SP500":2000,"NYSEARCAOILGASINDEX":1080,"EURCNY":6.78,"USDCNY":6.42,"SSE":3420},
{"i":214,"DJIA":17300,"SP500":1980,"NYSEARCAOILGASINDEX":1040,"EURCNY":6.80,"USDCNY":6.42,"SSE":3400},
{"i":215,"DJIA":17380,"SP500":1955,"NYSEARCAOILGASINDEX":1010,"EURCNY":6.82,"USDCNY":6.43,"SSE":3470},
{"i":216,"DJIA":17550,"SP500":1970,"NYSEARCAOILGASINDEX":1040,"EURCNY":6.84,"USDCNY":6.43,"SSE":3480},
{"i":217,"DJIA":17730,"SP500":1990,"NYSEARCAOILGASINDEX":1080,"EURCNY":6.86,"USDCNY":6.44,"SSE":3510},
{"i":218,"DJIA":17450,"SP500":2010,"NYSEARCAOILGASINDEX":1117,"EURCNY":6.88,"USDCNY":6.44,"SSE":3540},
{"i":219,"DJIA":17110,"SP500":2020,"NYSEARCAOILGASINDEX":1090,"EURCNY":6.90,"USDCNY":6.45,"SSE":3580},
{"i":220,"DJIA":17390,"SP500":2015,"NYSEARCAOILGASINDEX":1060,"EURCNY":6.92,"USDCNY":6.45,"SSE":3650},
{"i":221,"DJIA":17560,"SP500":2005,"NYSEARCAOILGASINDEX":1040,"EURCNY":6.94,"USDCNY":6.46,"SSE":3630},
{"i":222,"DJIA":17540,"SP500":2020,"NYSEARCAOILGASINDEX":1050,"EURCNY":6.96,"USDCNY":6.46,"SSE":3600},
{"i":223,"DJIA":17530,"SP500":2030,"NYSEARCAOILGASINDEX":1060,"EURCNY":6.98,"USDCNY":6.47,"SSE":3510},
{"i":224,"DJIA":17760,"SP500":2025,"NYSEARCAOILGASINDEX":1063,"EURCNY":6.96,"USDCNY":6.47,"SSE":3510},
{"i":225,"DJIA":17480,"SP500":2025,"NYSEARCAOILGASINDEX":1063,"EURCNY":6.94,"USDCNY":6.47,"SSE":3540}
  ]},
  "layer": [
    {
      "transform": [
        {"fold": ["DJIA", "SP500", "NYSEARCAOILGASINDEX", "EURCNY", "USDCNY", "SSE"], "as": ["series", "value"]}
      ],
      "mark": {"type": "line", "strokeWidth": 2.5, "clip": true},
      "encoding": {
        "x": {
          "field": "i", "type": "quantitative",
          "scale": {"domain": [0, 230.4], "nice": false, "zero": false},
          "axis": {"orient": "bottom", "values": [0, 50, 100, 150, 200], "title": null, "ticks": false, "labelPadding": 7}
        },
        "y": {
          "field": "value", "type": "quantitative",
          "scale": {"domain": [0, 20000], "nice": false},
          "axis": {
            "orient": "left", "values": [0, 2000, 4000, 6000, 8000, 10000, 12000, 14000, 16000, 18000, 20000],
            "format": "d", "title": null, "ticks": false, "labelPadding": 14
          }
        },
        "color": {
          "field": "series", "type": "nominal",
          "scale": {
            "domain": ["DJIA", "SP500", "NYSEARCAOILGASINDEX", "EURCNY", "USDCNY", "SSE"],
            "range": ["#d7191c", "#1f1fc8", "#22b022", "#b845b8", "#8fb0b8", "#e9a827"]
          },
          "legend": {
            "orient": "none", "legendX": 281.5, "legendY": 11.5, "title": null,
            "symbolType": "M-4,0H4", "symbolSize": 210, "symbolStrokeWidth": 2.5, "symbolOpacity": 1,
            "rowPadding": 4, "padding": 0,
            "labelAlign": "right", "labelOffset": -51.5, "labelLimit": 400,
            "labelFontSize": 16, "labelColor": "#111"
          }
        }
      }
    },
    {
      "transform": [{"filter": {"field": "i", "oneOf": [50, 100, 150, 200]}}],
      "mark": {"type": "rule", "color": "#222", "strokeWidth": 1.5},
      "encoding": {
        "x": {"field": "i", "type": "quantitative", "axis": {"orient": "top", "title": null, "labels": false, "ticks": false, "values": [0, 50, 100, 150, 200]}},
        "y": {"datum": 0, "type": "quantitative", "axis": null},
        "y2": {"datum": 293}
      }
    },
    {
      "transform": [{"filter": {"field": "i", "oneOf": [50, 100, 150, 200]}}],
      "mark": {"type": "rule", "color": "#222", "strokeWidth": 1.5},
      "encoding": {
        "x": {"field": "i", "type": "quantitative", "axis": null},
        "y": {"datum": 20000, "type": "quantitative", "axis": null},
        "y2": {"datum": 19707}
      }
    },
    {
      "data": {"values": [{"v": 2000}, {"v": 4000}, {"v": 6000}, {"v": 8000}, {"v": 10000}, {"v": 12000}, {"v": 14000}, {"v": 16000}, {"v": 18000}]},
      "mark": {"type": "rule", "color": "#222", "strokeWidth": 1.5},
      "encoding": {
        "y": {"field": "v", "type": "quantitative", "axis": null},
        "x": {"datum": 0, "type": "quantitative", "axis": null},
        "x2": {"datum": 2.04}
      }
    },
    {
      "data": {"values": [{"v": 2000}, {"v": 4000}, {"v": 6000}, {"v": 8000}, {"v": 10000}, {"v": 12000}, {"v": 14000}, {"v": 16000}, {"v": 18000}]},
      "mark": {"type": "rule", "color": "#222", "strokeWidth": 1.5},
      "encoding": {
        "y": {"field": "v", "type": "quantitative", "axis": null},
        "x": {"datum": 230.4, "type": "quantitative", "axis": null},
        "x2": {"datum": 228.36}
      }
    }
  ],
  "resolve": {"axis": {"x": "independent", "y": "independent"}},
  "config": {
    "font": "DejaVu Sans",
    "view": {"stroke": null},
    "axis": {
      "grid": false,
      "domainColor": "#222",
      "domainWidth": 1.5,
      "tickColor": "#222",
      "tickWidth": 1.2,
      "labelFontSize": 16,
      "labelColor": "#111",
      "labelFlush": false,
      "labelOverlap": false
    }
  }
}
